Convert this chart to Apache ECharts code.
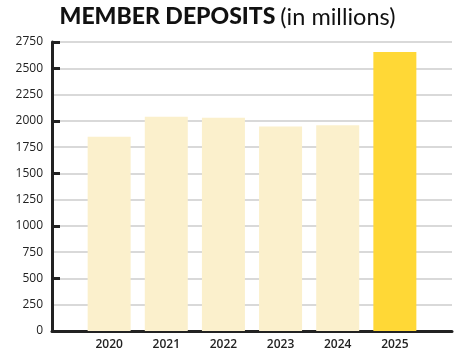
<!DOCTYPE html>
<html><head><meta charset="utf-8">
<script src="https://cdn.jsdelivr.net/npm/echarts@6/dist/echarts.min.js"></script>
<style>html,body{margin:0;padding:0;background:#fff}#c{width:455px;height:352px}</style>
</head><body><div id="c"></div>
<script>
var categories = ['', '2020', '2021', '2022', '2023', '2024', '2025', ''];
var deposits = ['-', 1848, 2038, 2030, 1946, 1959, 2655, '-'];
var highlightYear = '2025';
var yTicks = [0, 250, 500, 750, 1000, 1250, 1500, 1750, 2000, 2250, 2500, 2750];

var chart = echarts.init(document.getElementById('c'), null, {renderer: 'canvas'});
var font = 'Lato, "Open Sans", sans-serif';
var labelFont = '"Open Sans", sans-serif';
chart.setOption({
  animation: false,
  title: {
    text: '{b|MEMBER DEPOSITS} {r|(in millions)}',
    left: 'center', top: 5, padding: [0, 0, 0, 12],
    textStyle: {
      rich: {
        b: {fontFamily: font, fontWeight: 900, fontSize: 23, color: '#111'},
        r: {fontFamily: font, fontWeight: 400, fontSize: 23.5, color: '#111'}
      }
    }
  },
  grid: {left: 52, right: 0, top: 42, bottom: 21},
  xAxis: {
    type: 'category', data: categories, boundaryGap: false,
    axisLine: {lineStyle: {color: '#222', width: 3}},
    axisTick: {show: false},
    axisLabel: {color: '#222', fontFamily: labelFont, fontSize: 12, margin: 8, fontWeight: 600},
    splitLine: {show: false}
  },
  yAxis: [{
    type: 'value', min: yTicks[0], max: yTicks[yTicks.length - 1], interval: yTicks[1] - yTicks[0],
    axisLine: {show: true, lineStyle: {color: '#222', width: 3}},
    axisTick: {show: false},
    axisLabel: {color: '#222', fontFamily: labelFont, fontSize: 12, margin: 9, fontWeight: 500,
      formatter: function (v) { return String(v); }},
    splitLine: {lineStyle: {color: '#d9d9d9', width: 2}}
  }, {
    type: 'value', min: yTicks[0], max: yTicks[yTicks.length - 1], interval: 500,
    position: 'left',
    axisLine: {show: false},
    axisTick: {show: true, inside: true, length: 8, lineStyle: {color: '#222', width: 3}},
    axisLabel: {show: false},
    splitLine: {show: false}
  }],
  series: [{
    type: 'bar', yAxisIndex: 0,
    barWidth: 43,
    data: deposits.map(function (v, i) {
      return {value: v, itemStyle: {color: categories[i] === highlightYear ? '#FFD836' : '#FBF0CC'}};
    })
  }]
});
</script></body></html>
